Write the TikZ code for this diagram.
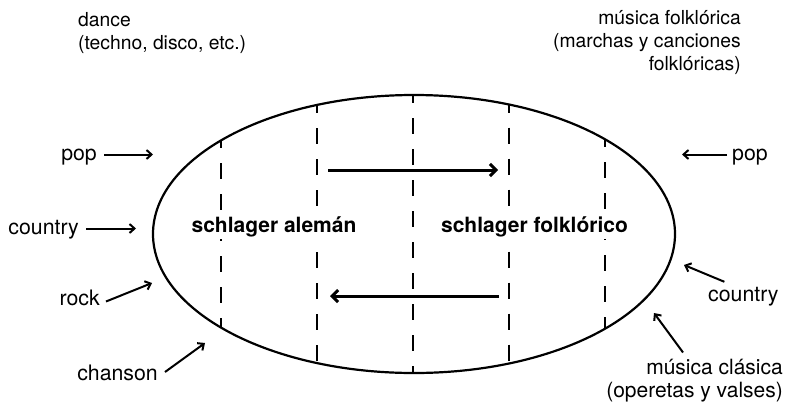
\documentclass[tikz,border=0pt]{standalone}
\usepackage{fontspec}
\setmainfont{TeX Gyre Heros}
\usetikzlibrary{arrows.meta}
\tikzset{
  toplbl/.style={font=\fontsize{19.3}{22.8}\selectfont, inner sep=0pt},
  sidelbl/.style={font=\fontsize{21.3}{23}\selectfont, inner sep=0pt, text height=11pt, text depth=0pt},
  multilbl/.style={font=\fontsize{21}{23}\selectfont, inner sep=0pt},
  boldlbl/.style={font=\fontsize{21}{24}\selectfont\bfseries, fill=white, inner sep=2pt},
  outline/.style={line width=2.2pt},
  dashline/.style={line width=2.4pt, dash pattern=on 16pt off 15pt, dash phase=8pt},
  bigarrow/.style={line width=3pt, -{Straight Barb[length=6pt,width=12pt]}},
  lblarrow/.style={line width=2pt, -{Straight Barb[length=5pt,width=9pt]}}
}
\begin{document}
\begin{tikzpicture}[x=1pt,y=-1pt]
\useasboundingbox (0,0) rectangle (786,402);
% ellipse
\draw[outline] (414,234) ellipse [x radius=261pt, y radius=139pt];
% dashed dividers
\draw[dashline] (221,140.4) -- (221,327.6);
\draw[dashline] (317,105) -- (317,363);
\draw[dashline] (413,95) -- (413,373);
\draw[dashline] (509,104.5) -- (509,363.5);
\draw[dashline] (605,139.3) -- (605,328.7);
% inner arrows
\coordinate (t1) at (328,170);
\coordinate (t2) at (498,170);
\coordinate (b1) at (499,296);
\coordinate (b2) at (330,296);
\draw[bigarrow] (t1) -- (t2);
\draw[bigarrow] (b1) -- (b2);
% bold labels
\node[boldlbl, anchor=base] (sa) at (274,232.5) {schlager alemán};
\node[boldlbl, anchor=base] (sf) at (534.5,232.5) {schlager folklórico};
% top labels
\node[toplbl, anchor=base west, align=left] (dance) at (78,49) {dance\\(techno, disco, etc.)};
\node[toplbl, anchor=base east, align=right] (folk) at (741,70) {música folklórica\\(marchas y canciones\\folklóricas)};
% left labels
\node[sidelbl, anchor=base east] (popL) at (97,160) {pop};
\node[sidelbl, anchor=base east] (ctyL) at (79,234) {country};
\node[sidelbl, anchor=base east] (rock) at (100,305) {rock};
\node[sidelbl, anchor=base east] (chan) at (158,380) {chanson};
% right labels
\node[sidelbl, anchor=base west] (popR) at (732,160) {pop};
\node[sidelbl, anchor=base west] (ctyR) at (708,301) {country};
\node[multilbl, anchor=base east, align=right] (clas) at (783,397) {música clásica\\(operetas y valses)};
% arrow tips
\coordinate (popLtip) at (153,154.5);
\coordinate (ctyLtip) at (136,228.5);
\coordinate (rocktip) at (152,283);
\coordinate (chantip) at (205,343);
\coordinate (popRtip) at (682,154.5);
\coordinate (ctyRtip) at (684,265);
\coordinate (clastip) at (654,313);
% label arrows
\draw[lblarrow] ([xshift=7pt]popL.east) -- (popLtip);
\draw[lblarrow] ([xshift=7pt]ctyL.east) -- (ctyLtip);
\draw[lblarrow] ([shift={(6pt,-2pt)}]rock.east) -- (rocktip);
\draw[lblarrow] ([shift={(7pt,2.5pt)}]chan.east) -- (chantip);
\draw[lblarrow] ([xshift=-5pt]popR.west) -- (popRtip);
\draw[lblarrow] ([shift={(-19pt,8pt)}]ctyR.north) -- (ctyRtip);
\draw[lblarrow] ([shift={(-11.5pt,6pt)}]clas.north) -- (clastip);
\end{tikzpicture}
\end{document}
